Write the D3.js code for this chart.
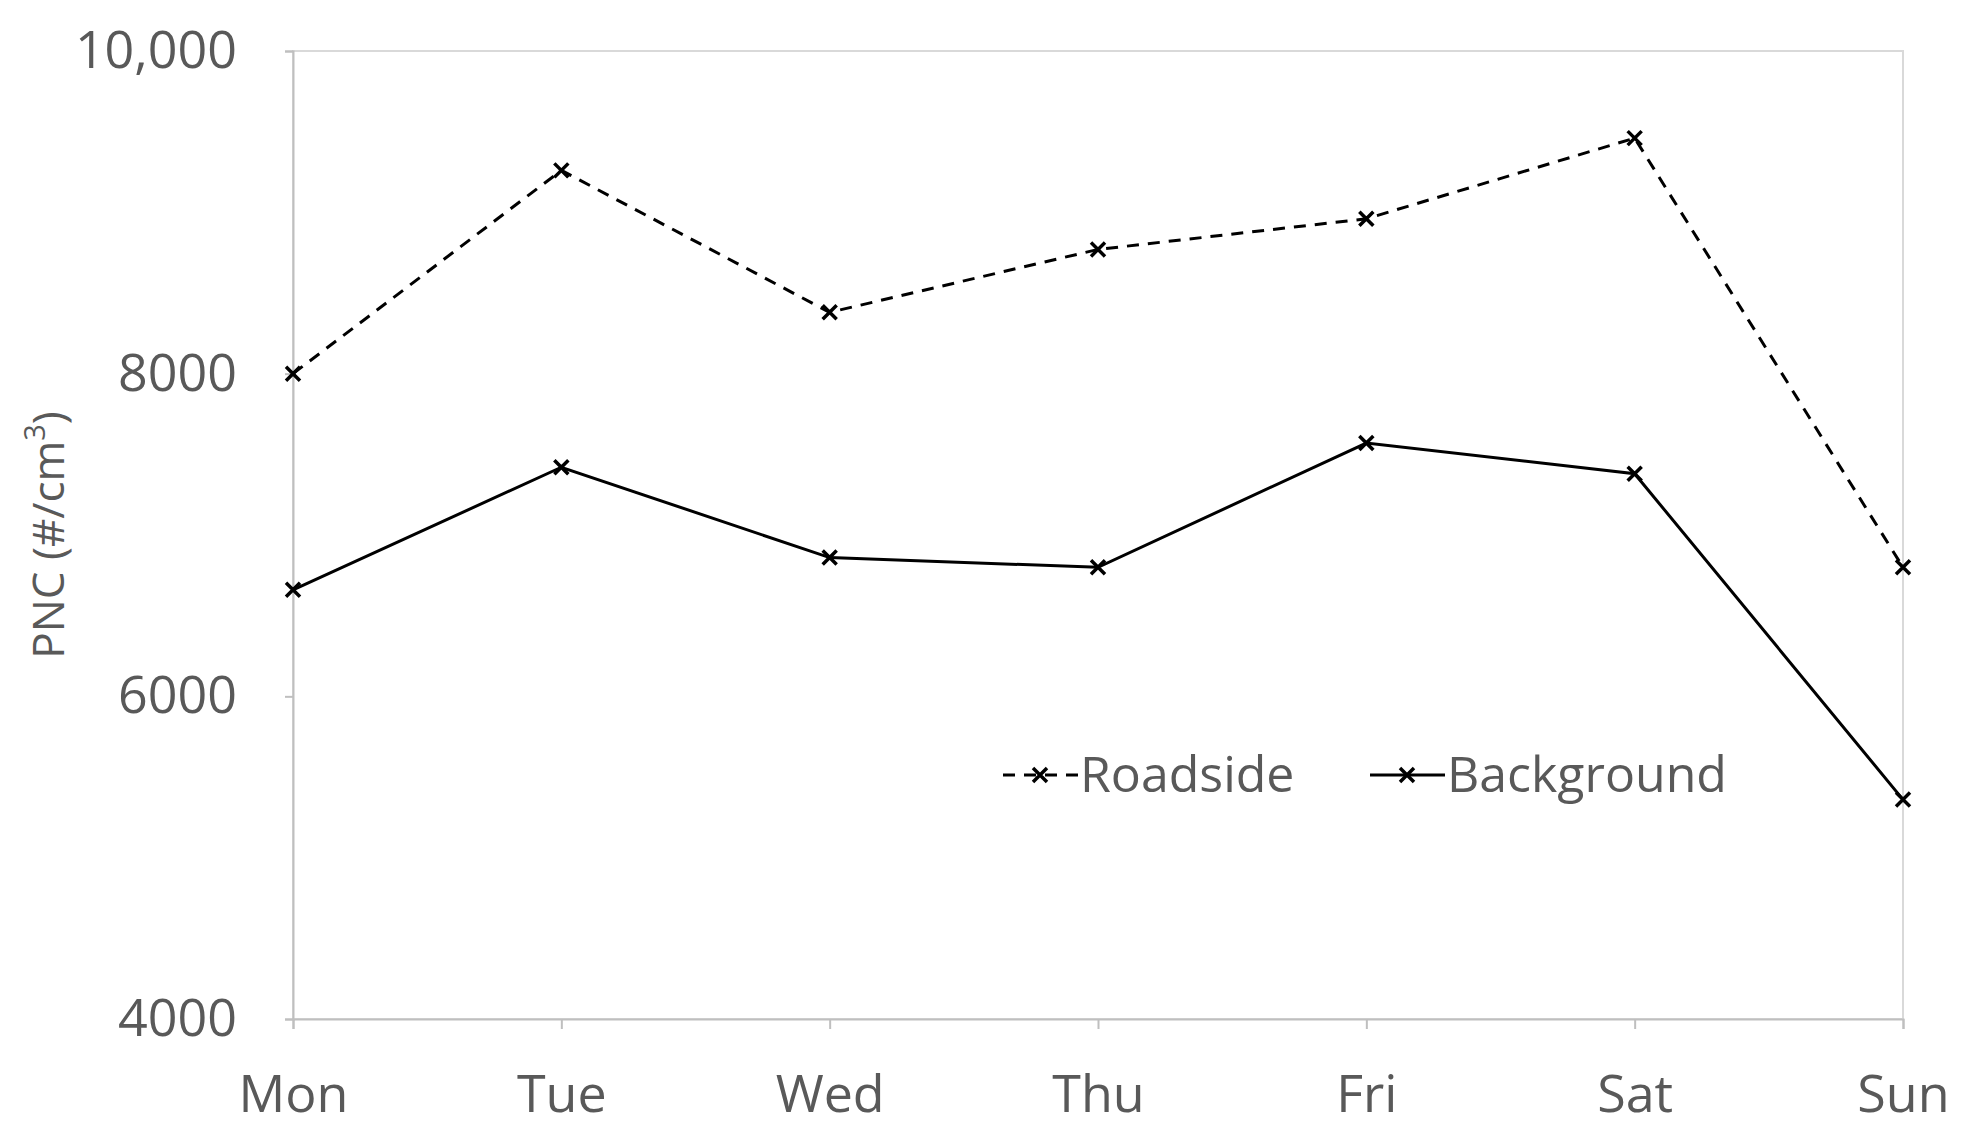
<!DOCTYPE html>
<html>
<head>
<meta charset="utf-8">
<script src="https://cdn.jsdelivr.net/npm/d3@7"></script>
<style>
  body { margin: 0; background: #fff; }
  text { font-family: "Open Sans", "Noto Sans", sans-serif; fill: #595959; }
</style>
</head>
<body>
<script>
const days = ['Mon', 'Tue', 'Wed', 'Thu', 'Fri', 'Sat', 'Sun'];
const roadside = [8000, 9260, 8380, 8770, 8960, 9460, 6800];
const background = [6660, 7420, 6860, 6800, 7570, 7380, 5360];
const yTicks = [4000, 6000, 8000, 10000];

const width = 1980, height = 1144;
const margin = {top: 51, left: 293, right: 77, bottom: 125};

const svg = d3.select('body').append('svg')
  .attr('width', width)
  .attr('height', height);

const x = d3.scalePoint()
  .domain(days)
  .range([margin.left, width - margin.right]);

const y = d3.scaleLinear()
  .domain([4000, 10000])
  .range([height - margin.bottom, margin.top]);

// frame
svg.append('rect')
  .attr('x', margin.left).attr('y', margin.top)
  .attr('width', width - margin.left - margin.right)
  .attr('height', height - margin.top - margin.bottom)
  .attr('fill', 'none').attr('stroke', '#d9d9d9').attr('stroke-width', 2);

// y axis
const yAxis = svg.append('g')
  .attr('transform', `translate(${margin.left},0)`)
  .call(d3.axisLeft(y).tickValues(yTicks).tickSize(8)
    .tickFormat(d => d === 10000 ? '10,000' : String(d)));
yAxis.select('.domain').attr('stroke', '#bfbfbf').attr('stroke-width', 2);
yAxis.selectAll('.tick line').attr('stroke', '#bfbfbf').attr('stroke-width', 2);
yAxis.selectAll('.tick text').attr('font-size', 52).attr('x', -56)
  .style('font-family', '"Open Sans", sans-serif');

// x axis
const xAxis = svg.append('g')
  .attr('transform', `translate(0,${height - margin.bottom})`)
  .call(d3.axisBottom(x).tickSize(10));
xAxis.select('.domain').attr('stroke', '#bfbfbf').attr('stroke-width', 2);
xAxis.selectAll('.tick line').attr('stroke', '#bfbfbf').attr('stroke-width', 2);
xAxis.selectAll('.tick text').attr('font-size', 52).attr('y', 56)
  .style('font-family', '"Open Sans", sans-serif');

// y label
svg.append('text')
  .attr('transform', `translate(64,${(margin.top + height - margin.bottom) / 2}) rotate(-90)`)
  .attr('text-anchor', 'middle')
  .attr('font-size', 44)
  .html('PNC (#/cm<tspan baseline-shift="super" font-size="29">3</tspan>)');

const line = d3.line()
  .x((d, i) => x(days[i]))
  .y(d => y(d));

const series = [
  {name: 'Roadside', values: roadside, dash: '12,9'},
  {name: 'Background', values: background, dash: null}
];

function cross(g, cx, cy, s) {
  g.append('path')
    .attr('d', `M${cx - s},${cy - s}L${cx + s},${cy + s}M${cx - s},${cy + s}L${cx + s},${cy - s}`)
    .attr('stroke', '#000').attr('stroke-width', 3.5);
}

series.forEach(s => {
  svg.append('path')
    .datum(s.values)
    .attr('d', line)
    .attr('fill', 'none')
    .attr('stroke', '#000')
    .attr('stroke-width', 3)
    .attr('stroke-dasharray', s.dash);
  const g = svg.append('g');
  s.values.forEach((v, i) => cross(g, x(days[i]), y(v), 7));
});

// legend
const legend = svg.append('g').attr('transform', 'translate(1003,775)');
series.forEach((s, i) => {
  const lg = legend.append('g').attr('transform', `translate(${i * 367},0)`);
  lg.append('line')
    .attr('x1', 0).attr('x2', 75).attr('y1', 0).attr('y2', 0)
    .attr('stroke', '#000').attr('stroke-width', 3)
    .attr('stroke-dasharray', s.dash);
  cross(lg, 37, 0, 7);
  lg.append('text')
    .attr('x', 77).attr('y', 17)
    .attr('font-size', 50)
    .text(s.name);
});
</script>
</body>
</html>
